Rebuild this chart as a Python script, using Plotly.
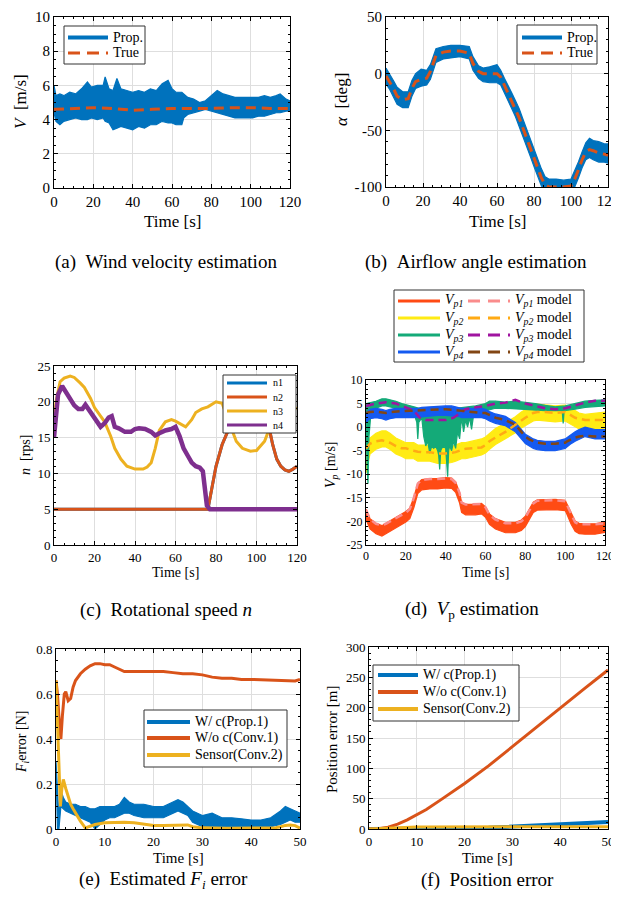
import plotly.graph_objects as go

# the page shows the figure 8 px in from its top-left corner, so the figure is made 8 px smaller
OFF = 8
W, H = 619 - OFF, 905 - OFF
FONT = "Liberation Serif, 'Times New Roman', Times, serif"
BLUE, ORANGE, YELLOW, PURPLE = "#0072BD", "#D95319", "#EDB120", "#7E2F8E"

# ---------------- data ----------------
# (a) wind velocity
a_t = [0, 1, 3, 5, 8, 11, 14, 17, 19, 22, 25, 26, 28, 30, 32, 34, 37, 40, 43, 46, 49, 52, 55, 58, 60, 62, 65, 66, 68, 71,
       74, 77, 80, 83, 86, 89, 92, 95, 98, 101, 104, 107, 110, 113, 115, 118, 120]
a_prop_hi = [6.0, 5.4, 5.5, 5.4, 5.6, 5.5, 5.8, 6.2, 5.9, 6.0, 6.0, 6.5, 5.8, 5.7, 6.4, 5.8, 5.7, 5.6, 5.7, 5.6,
             5.8, 5.7, 6.1, 6.3, 5.8, 5.6, 5.6, 5.5, 5.3, 5.2, 5.0, 5.1, 5.4, 5.7, 5.5, 5.4, 5.3, 5.3, 5.3, 5.3,
             5.3, 5.4, 5.3, 5.4, 5.5, 5.2, 5.1]
a_prop_lo = [4.4, 3.9, 3.7, 3.9, 4.0, 4.1, 4.0, 4.0, 4.1, 4.0, 4.1, 3.9, 3.8, 3.4, 3.5, 3.6, 3.5, 3.4, 3.6, 3.5,
             3.7, 3.7, 3.9, 3.8, 3.8, 3.7, 3.7, 4.1, 4.3, 4.4, 4.5, 4.6, 4.5, 4.4, 4.3, 4.2, 4.1, 4.1, 4.1, 4.1,
             4.2, 4.2, 4.3, 4.4, 4.4, 4.5, 4.5]
a_true_t = [0, 10, 20, 30, 40, 50, 60, 70, 80, 90, 100, 110, 120]
a_true = [4.6, 4.65, 4.7, 4.65, 4.55, 4.6, 4.65, 4.65, 4.65, 4.7, 4.7, 4.65, 4.65]

# (b) airflow angle
b_t = [0, 2, 4, 6, 9, 12, 14, 16, 19, 22, 24, 25.5, 27, 31, 35, 40, 45, 47, 50, 52.5, 56, 60, 62, 64, 66, 68, 70, 72,
       74, 76, 78, 80, 82, 84, 86, 88, 92, 96, 100, 102, 104, 106, 108, 110, 112, 115, 118, 120]
b_true = [-2, -7, -13, -20, -23, -22, -13, -7, -5, -4, 2, 9, 16, 19, 20, 20, 18, 9, 2, 0, 0, 0, -3, -10, -17, -24,
          -31, -39, -48, -57, -66, -75, -84, -92, -98, -100, -100, -100, -99, -93, -85, -76, -69, -67, -68, -70,
          -71, -72]
b_prop_hi = [5, 0, -6, -12, -16, -16, -6, 0, 4, 3, 8, 15, 22, 24, 25, 25, 24, 15, 7, 5, 6, 8, 3, -4, -10, -17,
             -24, -31, -40, -49, -58, -67, -76, -84, -91, -93, -93, -94, -93, -86, -78, -69, -61, -57, -59, -60,
             -62, -62]
b_prop_lo = [-9, -14, -20, -27, -30, -30, -20, -13, -11, -10, -5, 2, 10, 13, 14, 15, 13, 3, -4, -7, -8, -8, -10,
             -17, -24, -31, -38, -46, -55, -64, -73, -82, -91, -99, -103, -103, -103, -103, -104, -100, -92, -83,
             -76, -74, -76, -78, -78, -79]

# (c) rotational speed
n2_t = [0, 76, 78, 80, 83, 86, 90, 95, 100, 104, 106.5, 108, 110, 112, 114, 116, 118, 120]
n1 = [5, 5, 8, 11, 14, 16, 16.5, 16.5, 16.5, 16.5, 16, 14, 12, 11, 10.5, 10.3, 10.6, 11]
n2 = [5, 5, 8, 11, 14, 16, 16.5, 16.5, 16.5, 16.5, 16, 14, 12, 11, 10.5, 10.3, 10.6, 11]
n3_t = [0, 1, 3, 5, 8, 10, 13, 15, 18, 20, 23, 25, 28, 30, 33, 36, 40, 44, 46, 48, 50, 52, 55, 58, 60, 62, 65, 68,
        70, 73, 76, 80, 83, 86, 88, 90, 93, 97, 100, 102, 104, 106, 108, 110, 114, 117, 120]
n3 = [16, 20, 22.8, 23.3, 23.6, 23.4, 22.6, 22, 20.5, 19.2, 18, 17.2, 15.2, 13.5, 12, 11, 10.6, 10.6, 10.9, 11.5,
      13.5, 16, 17.2, 17.5, 17.3, 17, 16.5, 17.5, 18.5, 19, 19.3, 20, 19.8, 17.5, 16, 14.5, 13.5, 13.1, 13.2, 13.8,
      14.5, 16, 18, 19.5, 19.8, 19.5, 19]
n4_t = [0, 1, 2, 4, 6, 8, 10, 12, 14, 15.5, 17, 19, 21, 23, 25, 27, 28.5, 30, 32, 35, 38, 40, 42, 45, 48, 50, 52, 55,
        58, 60, 62, 64, 66, 68, 70, 72, 73.5, 74.5, 75.5, 77, 80, 90, 100, 110, 120]
n4 = [15, 19, 21, 22.2, 21.2, 20.5, 19.5, 19, 19, 19.6, 19, 18, 17.2, 16.5, 17, 17.8, 18, 16.5, 16.3, 15.8, 15.8,
      16.2, 16.3, 16.2, 15.8, 15.3, 15.6, 16, 16.2, 16.5, 15.2, 13.5, 12.5, 11.5, 11, 10.8, 10.3, 8, 5.5, 5, 5, 5, 5,
      5, 5]

# (d) Vp estimation
d_t = [0, 2, 5, 8, 10, 12, 15, 18, 20, 22, 24, 26, 28, 32, 36, 40, 43, 45, 47, 48, 50, 55, 58, 60, 62, 65, 70, 75,
       78, 80, 82, 84, 86, 90, 95, 100, 101, 103, 105, 107, 110, 115, 120]
vp1 = [-18.5, -20.5, -21.5, -22, -21.5, -21, -20.3, -19.5, -19, -18.3, -16, -13, -12.2, -12, -12, -11.8, -11.9,
       -12.7, -15, -17, -17.5, -17.5, -17.3, -18, -19.5, -20.5, -21.3, -21.3, -20.8, -20, -18.5, -17, -16.5, -16.5,
       -16.4, -16.6, -17.5, -19.5, -21, -21.5, -21.6, -21.6, -21.2]
vp1_model = [-17.5, -19.5, -20.5, -20.8, -20.5, -20, -19.4, -18.6, -18.2, -17.4, -15, -12, -11.2, -11, -11, -10.9,
             -11, -11.8, -14, -16, -16.4, -16.4, -16.3, -17, -18.6, -19.6, -20.4, -20.4, -20, -19.2, -17.6, -16.2,
             -15.6, -15.6, -15.5, -15.7, -16.6, -18.6, -20.2, -20.6, -20.6, -20.6, -20.4]
vp2 = [-8, -4, -3, -2.5, -2.5, -3, -4, -4.5, -5, -5, -5, -5.5, -5.5, -5.5, -6, -6, -5.8, -5.5, -5.2, -5, -5, -4.5,
       -4.2, -3.8, -3, -2, -0.8, 0.5, 1.5, 2, 2.5, 3, 3.2, 3, 2.8, 3, 2.8, 2.3, 1.8, 1.3, 1, 1.3, 1.5]
vp2_model = [-4.5, -3.5, -3, -2.8, -3, -3.3, -4, -4.5, -4.5, -4.8, -5, -5.2, -5.3, -5.3, -5.6, -5.6, -5.5, -5.3, -5,
             -4.8, -4.6, -4.5, -4.3, -3.8, -3, -2.2, -1, 0.5, 1.5, 2, 2.5, 3, 3.2, 3.2, 3, 3.2, 3, 2.5, 2, 1.8, 1.5,
             1.5, 1.5]
vp4 = [2, 2.8, 3, 2.8, 2.5, 2.8, 3, 3, 3, 3, 3, 3, 3.2, 3.3, 3.5, 3.5, 3.5, 3.3, 3.2, 3, 3, 3, 3, 2.8, 2.3, 1.8, 1.3,
       0, -1.5, -2.5, -3, -3.5, -3.8, -4, -4, -3.5, -3.2, -2.5, -2, -1.5, -1, -1.5, -1.5]
vp4_model = [3, 3.2, 3.3, 3.2, 3, 3.2, 3.3, 3.5, 3.5, 3.5, 3.5, 3.6, 3.6, 3.7, 3.8, 3.8, 3.7, 3.6, 3.5, 3.4, 3.3,
             3.2, 3, 3, 2.6, 2, 1.5, 0.5, -1, -2, -2.6, -3, -3.3, -3.5, -3.5, -3.3, -3, -2.6, -2.2, -2, -1.8, -2, -2]
vp1_spread = 1.1
vp2_spread = 1.7
vp4_spread = 1.0
vp3_hi_t = [0, 3, 5, 8, 10, 12, 15, 18, 20, 25, 28, 32, 36, 40, 45, 50, 55, 60, 62, 65, 70, 75, 80, 85, 90, 95, 100,
            105, 110, 115, 120]
vp3_hi = [5, 5.3, 5.5, 6, 6, 5.8, 5.5, 5, 4.8, 4.2, 3.8, 3.8, 4, 4.2, 4, 4.2, 4.5, 5, 5.5, 5.5, 5.3, 5.5, 5.3, 5,
          4.6, 4.3, 4.5, 5, 5.5, 5.7, 5.8]
vp3_lo_t = [0, 0.5, 1, 1.5, 2.5, 5, 8, 10, 15, 20, 24, 25.5, 26, 26.5, 28, 29, 30, 31, 32, 33, 34, 35, 36, 36.5, 37,
            37.5, 38, 39, 40, 40.5, 41, 41.5, 42, 43, 44, 45, 46, 47, 48, 49, 50, 51, 52, 53, 54, 56, 60, 65, 70, 80,
            90, 98.5, 99, 99.5, 105, 110, 120]
vp3_lo = [3.5, -8, -12, -2, 3, 4, 4.5, 4.5, 4, 3.5, 3, 1, -2.5, 1, 2, -2, -4, -3, -5.5, -4, -4.5, -4, -5, -6, -9, -5,
          -4.5, -4, -4.5, -7, -10.5, -5, -4, -5, -3, -4.5, -1, -2.5, 2, -1, 1.5, 0, 2, -0.5, 2.5, 3, 3.5, 4, 4, 3.8,
          3.5, 3.5, 0.8, 3.5, 3.8, 4.2, 4.5]
vp3_model_t = [0, 5, 10, 15, 20, 24, 27, 30, 35, 40, 44, 47, 50, 55, 60, 65, 70, 75, 80, 85, 90, 95, 100, 105, 110,
               115, 120]
vp3_model = [4.5, 5, 5.3, 5, 4.2, 3.5, 2, 1.5, 1.5, 1.5, 2, 3, 3.8, 4.2, 4.5, 5, 5.2, 5.8, 5, 4.5, 4, 3.8, 4, 4.6,
             5.2, 5.6, 5.6]

# (e) estimated Fi error
e_woc_t = [0, 0.3, 0.6, 1, 1.3, 1.7, 2, 2.5, 3, 3.5, 4, 5, 6, 7, 8, 9, 10, 11, 12, 13, 14, 16, 18, 20, 22, 24, 26,
           28, 30, 32, 34, 36, 38, 40, 42, 44, 46, 48, 49, 50]
e_woc = [0.66, 0.6, 0.5, 0.4, 0.5, 0.6, 0.61, 0.57, 0.58, 0.63, 0.66, 0.69, 0.71, 0.725, 0.735, 0.735, 0.73, 0.73,
         0.72, 0.71, 0.70, 0.70, 0.70, 0.70, 0.70, 0.695, 0.69, 0.69, 0.685, 0.675, 0.67, 0.67, 0.665, 0.665, 0.663,
         0.663, 0.662, 0.66, 0.658, 0.665]
e_sen_t = [0, 0.3, 0.6, 0.9, 1.2, 1.5, 2, 2.5, 3, 3.5, 4, 5, 6, 7, 8, 10, 12, 14, 16, 18, 20, 22, 24, 26, 27, 28, 30,
           35, 40, 44, 45, 46, 47, 48, 49, 50]
e_sen = [0.66, 0.5, 0.3, 0.1, 0.18, 0.22, 0.18, 0.14, 0.11, 0.09, 0.07, 0.035, 0.005, 0.012, 0.02, 0.028, 0.03,
         0.03, 0.028, 0.022, 0.016, 0.015, 0.016, 0.02, 0.018, 0.01, 0.005, 0.003, 0.003, 0.003, 0.006, 0.01, 0.016,
         0.018, 0.015, 0.004]
e_wc_t = [0, 0.3, 0.6, 1, 1.5, 2, 3, 4, 5, 6, 7, 8, 9, 10, 11, 12, 13, 14, 15, 16, 18, 20, 22, 24, 25, 26, 27, 28,
          30, 32, 34, 36, 38, 40, 42, 44, 46, 47, 48, 49, 50]
e_wc_hi = [0.3, 0.15, 0.05, 0.17, 0.14, 0.12, 0.11, 0.11, 0.1, 0.1, 0.09, 0.09, 0.1, 0.1, 0.1, 0.1, 0.11, 0.14,
           0.12, 0.11, 0.11, 0.1, 0.1, 0.12, 0.13, 0.12, 0.1, 0.08, 0.06, 0.07, 0.05, 0.05, 0.045, 0.04, 0.04, 0.05,
           0.08, 0.1, 0.09, 0.08, 0.07]
e_wc_lo = [0.28, 0.0, 0.0, 0.1, 0.09, 0.08, 0.07, 0.06, 0.05, 0.04, 0.03, 0.0, 0.02, 0.04, 0.05, 0.05, 0.06, 0.07,
           0.07, 0.06, 0.05, 0.05, 0.05, 0.07, 0.08, 0.07, 0.06, 0.03, 0.01, 0.01, 0.0, 0.0, 0.0, 0.0, 0.0, 0.01,
           0.02, 0.03, 0.04, 0.03, 0.03]

# (f) position error
f_t = [0, 2, 4, 6, 8, 10, 12, 15, 20, 25, 30, 35, 40, 45, 50]
f_woc = [0, 0.5, 3, 8, 15, 23, 32, 48, 75, 104, 136, 168, 200, 231, 262]
f_wc = [0, 0, 0, 0, 0, 0.2, 0.3, 0.5, 1, 2, 4, 6.5, 9, 10.5, 11.5]
f_sen = [0, 0.8, 1.8, 2.5, 3, 3.3, 3.5, 3.6, 3.7, 3.7, 3.7, 3.7, 3.7, 3.7, 3.7]

# tick labels
T120 = [0, 20, 40, 60, 80, 100, 120]
T50 = [0, 10, 20, 30, 40, 50]
A_Y = [0, 2, 4, 6, 8, 10]
B_Y = [-100, -50, 0, 50]
B_YTXT = ["-100", "-50", "0", "50"]
C_Y = [0, 5, 10, 15, 20, 25]
D_Y = [-25, -20, -15, -10, -5, 0, 5, 10]
D_YTXT = ["-25", "-20", "-15", "-10", "-5", "0", "5", "10"]
E_Y = [0, 0.2, 0.4, 0.6, 0.8]
E_YTXT = ["0", "0.2", "0.4", "0.6", "0.8"]
F_Y = [0, 50, 100, 150, 200, 250, 300]

# legend labels
LEG_AB = ["Prop.", "True"]
LEG_C = ["n1", "n2", "n3", "n4"]
LEG_D = ["<i>V<sub>p1</sub></i>", "<i>V<sub>p2</sub></i>", "<i>V<sub>p3</sub></i>", "<i>V<sub>p4</sub></i>"]
LEG_DM = ["<i>V<sub>p1</sub></i> model", "<i>V<sub>p2</sub></i> model", "<i>V<sub>p3</sub></i> model",
          "<i>V<sub>p4</sub></i> model"]
LEG_EF = ["W/ c(Prop.1)", "W/o c(Conv.1)", "Sensor(Conv.2)"]

# ---------------- figure ----------------
fig = go.Figure()


def band(tx_hi, hi, tx_lo, lo, color, ax):
    fig.add_trace(go.Scatter(x=list(tx_hi) + list(tx_lo)[::-1], y=list(hi) + list(lo)[::-1], fill="toself",
                             fillcolor=color, mode="lines", line=dict(color=color, width=1.2),
                             showlegend=False, hoverinfo="skip", xaxis="x" + ax, yaxis="y" + ax))


def line(x, y, color, width, ax, dash=None):
    fig.add_trace(go.Scatter(x=x, y=y, mode="lines", line=dict(color=color, width=width, dash=dash),
                             showlegend=False, hoverinfo="skip", xaxis="x" + ax, yaxis="y" + ax))


DASH = "10px,6px"
# (a)
band(a_t, a_prop_hi, a_t, a_prop_lo, BLUE, "")
line(a_true_t, a_true, ORANGE, 3, "", dash=DASH)
# (b)
band(b_t, b_prop_hi, b_t, b_prop_lo, BLUE, "2")
line(b_t, b_true, ORANGE, 3, "2", dash=DASH)
# (c)
line(n2_t, n1, BLUE, 3, "3")
line(n2_t, n2, ORANGE, 3, "3")
line(n3_t, n3, YELLOW, 3, "3")
line(n4_t, n4, PURPLE, 4.5, "3")
# (d)
C1, C1M = "rgb(255,75,20)", "rgb(250,140,140)"
C2, C2M = "rgb(255,235,20)", "rgb(255,170,20)"
C3, C3M = "rgb(20,170,120)", "rgb(160,20,160)"
C4, C4M = "rgb(20,90,240)", "rgb(130,70,20)"
band(d_t, [v + vp1_spread for v in vp1], d_t, [v - vp1_spread for v in vp1], C1, "4")
band(d_t, [v + vp2_spread for v in vp2], d_t, [v - vp2_spread for v in vp2], C2, "4")
band(vp3_hi_t, vp3_hi, vp3_lo_t, vp3_lo, C3, "4")
band(d_t, [v + vp4_spread for v in vp4], d_t, [v - vp4_spread for v in vp4], C4, "4")
DDASH = "8px,5px"
line(d_t, vp1_model, C1M, 2.5, "4", dash=DDASH)
line(d_t, vp2_model, C2M, 2.5, "4", dash=DDASH)
line(vp3_model_t, vp3_model, C3M, 2.5, "4", dash=DDASH)
line(d_t, vp4_model, C4M, 2.5, "4", dash=DDASH)
# (e)
band(e_wc_t, e_wc_hi, e_wc_t, e_wc_lo, BLUE, "5")
line(e_woc_t, e_woc, ORANGE, 3, "5")
line(e_sen_t, e_sen, YELLOW, 3, "5")
# (f)
line(f_t, f_wc, BLUE, 4, "6")
line(f_t, f_woc, ORANGE, 3, "6")
line(f_t, f_sen, YELLOW, 3, "6")


# ---------------- layout (positions given in window pixels) ----------------
def fx(x):
    return (x - OFF) / W


def fy(y):
    return 1 - (y - OFF) / H


def axis(domain, anchor, rng, tv, fsize, minor_dtick, tt=None):
    return dict(domain=domain, anchor=anchor, range=rng, tickmode="array", tickvals=tv,
                ticktext=tt if tt else [str(v) for v in tv], ticklabeloverflow="allow",
                showline=True, linecolor="black", linewidth=1, mirror="allticks",
                ticks="inside", ticklen=4, tickcolor="black", showgrid=True, gridcolor="#DEDEDE", gridwidth=1,
                zeroline=False, tickfont=dict(family=FONT, size=fsize, color="black"), automargin=False,
                minor=dict(dtick=minor_dtick, tick0=0, ticks="inside", ticklen=2, tickcolor="black",
                           showgrid=False))


panels = {
    "": ((54, 290), (17, 188), [0, 120], T120, [0, 10], A_Y, None, 15, 5, 0.5),
    "2": ((386, 608), (17, 187), [0, 120], T120, [-100, 50], B_Y, B_YTXT, 15, 5, 10),
    "3": ((54, 297), (366, 545), [0, 120], T120, [0, 25], C_Y, None, 13, 5, 1),
    "4": ((366, 605), (380, 545), [0, 120], T120, [-25, 10], D_Y, D_YTXT, 12, 5, 1),
    "5": ((56, 300), (649, 829), [0, 50], T50, [0, 0.8], E_Y, E_YTXT, 13, 2, 0.05),
    "6": ((369, 608), (647, 829), [0, 50], T50, [0, 300], F_Y, None, 13, 2, 10),
}
layout = dict(width=W, height=H, margin=dict(l=0, r=0, t=0, b=0, pad=0, autoexpand=False),
              plot_bgcolor="white", paper_bgcolor="white",
              font=dict(family=FONT, color="black"), showlegend=False)
for k, (xd, yd, xr, xt, yr, yt, ytt, fs, xm, ym) in panels.items():
    layout["xaxis" + k] = axis([fx(xd[0]), fx(xd[1])], "y" + k, xr, xt, fs, xm)
    layout["yaxis" + k] = axis([fy(yd[1]), fy(yd[0])], "x" + k, yr, yt, fs, ym, ytt)

shapes = []
annos = []


def txt(x, y, s, size, angle=0, xanchor="center"):
    annos.append(dict(x=fx(x), y=fy(y), xref="paper", yref="paper", text=s, showarrow=False,
                      textangle=angle, xanchor=xanchor, yanchor="middle",
                      font=dict(family=FONT, size=size, color="black")))


def box(x0, y0, x1, y1):
    shapes.append(dict(type="rect", xref="paper", yref="paper", x0=fx(x0), x1=fx(x1), y0=fy(y1),
                       y1=fy(y0), line=dict(color="#333333", width=1), fillcolor="white"))


def sample(x0, x1, y, color, width, dash=None):
    shapes.append(dict(type="line", xref="paper", yref="paper", x0=fx(x0), x1=fx(x1), y0=fy(y),
                       y1=fy(y), line=dict(color=color, width=width, dash=dash)))


def legend(bx, rows, lx0, lx1, tx, items, fs):
    box(*bx)
    for y, (label, color, width, dash) in zip(rows, items):
        sample(lx0, lx1, y, color, width, dash)
        txt(tx, y, label, fs, xanchor="left")


legend((64, 26, 145, 64), [37.5, 53], 68, 108, 111,
       [(LEG_AB[0], BLUE, 4, None), (LEG_AB[1], ORANGE, 3, "12px,7px")], 14)
legend((517, 25, 597, 64), [37.5, 53], 522, 562, 565,
       [(LEG_AB[0], BLUE, 4, None), (LEG_AB[1], ORANGE, 3, "12px,7px")], 14)
legend((223, 375, 296, 433), [383, 397, 411, 425], 227, 267, 271,
       [(LEG_C[0], BLUE, 3, None), (LEG_C[1], ORANGE, 3, None), (LEG_C[2], YELLOW, 3, None),
        (LEG_C[3], PURPLE, 3, None)], 10)
legend((394, 290, 584, 362), [301, 318, 335, 352], 398, 440, 443,
       [(LEG_D[0], C1, 3, None), (LEG_D[1], C2, 3, None), (LEG_D[2], C3, 3, None), (LEG_D[3], C4, 3, None)], 14)
for y, lab, c in zip([301, 318, 335, 352], LEG_DM, [C1M, C2M, C3M, C4M]):
    sample(468, 510, y, c, 3, "12px,8px")
    txt(513, y, lab, 14, xanchor="left")
legend((144, 710, 287, 767), [722, 738, 755], 147, 190, 193,
       [(LEG_EF[0], BLUE, 4, None), (LEG_EF[1], ORANGE, 4, None), (LEG_EF[2], YELLOW, 4, None)], 14)
legend((373, 665, 519, 721), [675, 692, 709], 378, 418, 421,
       [(LEG_EF[0], BLUE, 4, None), (LEG_EF[1], ORANGE, 4, None), (LEG_EF[2], YELLOW, 4, None)], 14)

# axis titles
txt(20, 102, "<i>V</i>\u00a0\u00a0[m/s]", 17, -90)
txt(172, 221, "Time [s]", 17)
txt(342, 100, "<i>α</i>\u00a0\u00a0[deg]", 17, -90)
txt(497, 221, "Time [s]", 17)
txt(25, 455, "<i>n</i>\u00a0\u00a0[rps]", 14, -90)
txt(175, 572, "Time [s]", 14)
txt(332, 465, "<i>V<sub>p</sub></i>\u00a0[m/s]", 14, -90)
txt(485, 572, "Time [s]", 14)
txt(22, 742, "<i>F<sub>i</sub></i>error [N]", 14, -90)
txt(178, 858, "Time [s]", 15)
txt(332, 740, "Position error [m]", 15, -90)
txt(488, 858, "Time [s]", 15)
# captions
SP = "\u00a0\u00a0"
txt(166, 262, "(a)" + SP + "Wind velocity estimation", 19)
txt(476, 262, "(b)" + SP + "Airflow angle estimation", 19)
txt(166, 610, "(c)" + SP + "Rotational speed <i>n</i>", 19)
txt(472, 610, "(d)" + SP + "<i>V</i><sub>p</sub> estimation", 19)
txt(163, 880, "(e)" + SP + "Estimated <i>F<sub>i</sub></i> error", 19)
txt(488, 880, "(f)" + SP + "Position error", 19)
layout["annotations"] = annos
layout["shapes"] = shapes

fig.update_layout(**layout)
fig.write_html("out.html")
